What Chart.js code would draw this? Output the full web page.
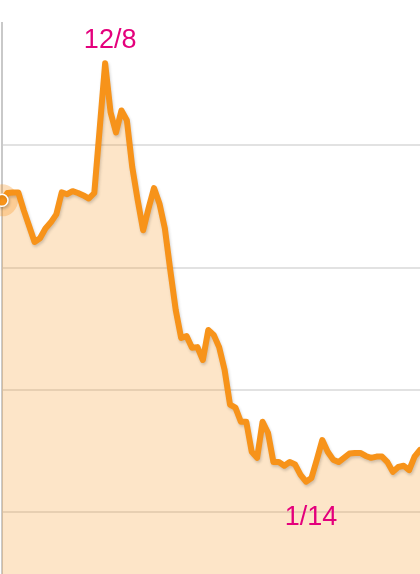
<!DOCTYPE html>
<html>
<head>
<meta charset="utf-8">
<script src="https://cdn.jsdelivr.net/npm/chart.js@4/dist/chart.umd.min.js"></script>
<style>
  html, body { margin: 0; padding: 0; background: #fff; }
  #wrap { width: 420px; height: 574px; position: relative; }
</style>
</head>
<body>
<div id="wrap"><canvas id="priceChart"></canvas></div>
<script>
// daily labels, 11/19 .. 2/4
const startDate = new Date(2013, 10, 19);
const days = [];
for (let i = 0; i < 78; i++) {
  const d = new Date(startDate.getTime() + i * 86400000);
  days.push(`${d.getMonth() + 1}/${d.getDate()}`);
}

const prices = [
  71.0, 72.2, 72.3, 72.3, 69.4, 66.8, 64.2, 64.8, 66.4, 67.4,
  68.7, 72.3, 72.0, 72.5, 72.2, 71.8, 71.3, 72.2, 82.8, 93.4,
  85.4, 82.1, 85.7, 84.1, 76.4, 71.0, 66.1, 69.7, 73.0, 70.5,
  66.4, 59.6, 53.1, 48.5, 48.8, 46.9, 47.0, 44.9, 49.8, 49.0,
  47.0, 43.3, 37.6, 37.1, 34.8, 34.8, 29.9, 28.9, 34.8, 33.0,
  28.2, 28.2, 27.6, 28.2, 27.8, 26.1, 25.0, 25.6, 28.6, 31.8,
  29.9, 28.6, 28.2, 28.9, 29.6, 29.7, 29.7, 29.2, 28.9, 29.1,
  29.1, 28.2, 26.6, 27.4, 27.6, 26.9, 29.1, 30.2
];

const gridValues = [20, 40, 60, 80];
const callouts = ["12/8", "1/14"];

const orange = "#F7931A";

// halo round the first point only
const halo = prices.map((v, i) => (i === 0 ? v : null));

const lineShadow = {
  id: "lineShadow",
  beforeDatasetDraw(chart, args) {
    if (args.index !== 0) return;
    const ctx = chart.ctx;
    ctx.save();
    ctx.shadowColor = "rgba(0,0,0,0.18)";
    ctx.shadowBlur = 3;
    ctx.shadowOffsetX = 1;
    ctx.shadowOffsetY = 2;
  },
  afterDatasetDraw(chart, args) {
    if (args.index !== 0) return;
    chart.ctx.restore();
  },
};

const dateLabels = {
  id: "dateLabels",
  afterDatasetsDraw(chart) {
    const { ctx, scales } = chart;
    ctx.save();
    ctx.fillStyle = "#E4007C";
    ctx.font = "27px 'Liberation Sans', sans-serif";
    ctx.textAlign = "center";
    callouts.forEach((label) => {
      const i = days.indexOf(label);
      const x = scales.x.getPixelForValue(i);
      const y = scales.y.getPixelForValue(prices[i]);
      const isHigh = prices[i] === Math.max(...prices);
      ctx.textBaseline = "alphabetic";
      ctx.fillText(label, x + 5, isHigh ? y - 15 : y + 43);
    });
    ctx.restore();
  },
};

const ctx = document.getElementById("priceChart").getContext("2d");
new Chart(ctx, {
  type: "line",
  data: {
    labels: days,
    datasets: [
      {
        data: prices,
        borderColor: orange,
        borderWidth: 6,
        borderJoinStyle: "round",
        borderCapStyle: "round",
        tension: 0,
        fill: "start",
        backgroundColor: "rgba(247,147,26,0.24)",
        pointRadius: (c) => (c.dataIndex === 0 ? 6 : 0),
        pointBackgroundColor: orange,
        pointBorderColor: "#fff",
        pointBorderWidth: 1.5,
        order: 1,
        clip: false,
      },
      {
        data: halo,
        showLine: false,
        pointRadius: 16,
        pointBorderWidth: 0,
        pointBackgroundColor: "rgba(247,147,26,0.3)",
        order: 2,
        clip: false,
      },
    ],
  },
  options: {
    responsive: true,
    maintainAspectRatio: false,
    animation: false,
    layout: { autoPadding: false, padding: { top: 23, left: 2, right: 0, bottom: 0 } },
    plugins: {
      legend: { display: false },
      tooltip: { enabled: false },
    },
    scales: {
      x: { display: false },
      y: {
        min: 9.9,
        max: 100,
        afterBuildTicks: (scale) => {
          scale.ticks = gridValues.map((v) => ({ value: v }));
        },
        ticks: { display: false },
        grid: { color: "#e2e2e2", lineWidth: 2, drawTicks: false },
        border: { display: true, color: "#c9c9c9", width: 2 },
      },
    },
  },
  plugins: [lineShadow, dateLabels],
});
</script>
</body>
</html>
